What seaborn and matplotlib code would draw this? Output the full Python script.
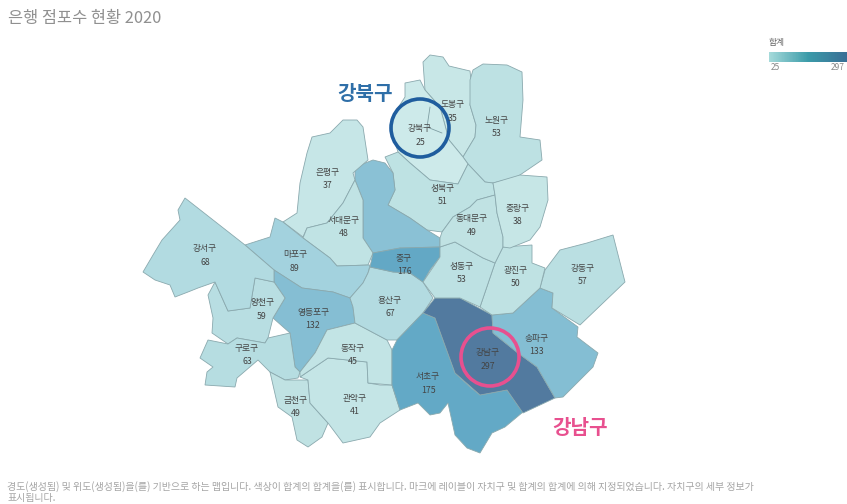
import numpy as np
import matplotlib
matplotlib.use('Agg')
import matplotlib.pyplot as plt
from matplotlib.colors import Normalize
from matplotlib.patches import Circle
import seaborn as sns

districts = ['도봉구', '노원구', '강북구', '성북구', '종로구', '은평구', '서대문구', '마포구', '영등포구',
             '양천구', '강서구', '구로구', '금천구', '관악구', '동작구', '용산구', '중구', '서초구',
             '강남구', '송파구', '강동구', '광진구', '성동구', '동대문구', '중랑구']
# 종로구 has no label in the picture, its value is guessed from its colour
values = [35, 53, 25, 51, 125, 37, 48, 89, 132, 59, 68, 63, 49, 41, 45, 67, 176, 175, 297, 133, 57, 50, 53, 49, 38]
labelled = [d for d in districts if d != '종로구']

# district outlines, map units are the pixels of the source map
outlines = {
    '도봉구': [(423, 62), (430, 55), (443, 57), (449, 66), (470, 71), (472, 90), (470, 105), (476, 125), (475, 137),
            (463, 157), (449, 140), (440, 107), (425, 90)],
    '노원구': [(470, 80), (473, 70), (483, 64), (507, 65), (522, 72), (523, 100), (520, 137), (540, 140), (542, 160),
            (517, 177), (493, 183), (485, 182), (468, 164), (463, 157), (475, 137), (476, 125), (470, 105)],
    '강북구': [(405, 83), (420, 80), (425, 90), (440, 107), (449, 140), (463, 157), (468, 164), (458, 184), (430, 180),
            (410, 163), (398, 152), (392, 133), (392, 117), (405, 97)],
    '성북구': [(385, 157), (398, 152), (410, 163), (430, 180), (458, 184), (468, 164), (485, 182), (493, 183),
            (495, 195), (477, 200), (470, 207), (453, 217), (442, 232), (427, 230), (410, 218), (388, 205),
            (395, 190), (393, 173)],
    '종로구': [(355, 167), (373, 160), (385, 163), (393, 173), (395, 190), (388, 205), (410, 218), (427, 230),
            (440, 238), (440, 247), (400, 248), (373, 253), (363, 238), (363, 200), (355, 180)],
    '은평구': [(312, 137), (330, 133), (343, 120), (357, 120), (363, 127), (368, 160), (353, 173), (355, 180),
            (343, 203), (327, 223), (307, 228), (303, 237), (283, 222), (297, 213), (300, 183), (307, 153)],
    '서대문구': [(303, 238), (307, 228), (327, 223), (343, 203), (355, 180), (363, 200), (363, 238), (373, 253),
             (368, 265), (337, 266), (330, 258)],
    '마포구': [(245, 245), (270, 237), (275, 218), (283, 222), (303, 238), (330, 258), (337, 266), (370, 265),
            (368, 273), (363, 283), (350, 298), (333, 292), (302, 288), (274, 270)],
    '영등포구': [(274, 270), (274, 282), (285, 298), (273, 318), (290, 333), (295, 367), (300, 372), (315, 353),
             (327, 330), (355, 323), (353, 307), (350, 298), (333, 292), (302, 288)],
    '양천구': [(215, 282), (208, 295), (213, 318), (212, 333), (228, 344), (237, 338), (265, 343), (268, 338),
            (273, 318), (285, 298), (274, 282), (255, 278), (250, 308), (228, 311)],
    '강서구': [(185, 198), (178, 210), (180, 220), (162, 240), (153, 255), (143, 272), (155, 280), (170, 285),
            (175, 297), (188, 292), (198, 288), (215, 282), (228, 311), (250, 308), (255, 278), (274, 282),
            (274, 270), (245, 245)],
    '구로구': [(200, 358), (208, 340), (228, 344), (237, 338), (265, 343), (268, 338), (290, 333), (295, 367),
            (300, 372), (298, 378), (285, 380), (270, 372), (258, 360), (237, 378), (235, 387), (205, 385),
            (207, 372), (213, 367)],
    '금천구': [(270, 372), (285, 380), (308, 380), (310, 403), (328, 423), (322, 437), (308, 447), (297, 440),
            (292, 417), (278, 407)],
    '관악구': [(300, 377), (328, 358), (367, 362), (368, 383), (380, 385), (392, 385), (400, 410), (380, 423),
            (370, 437), (343, 443), (328, 423), (310, 403), (308, 380)],
    '동작구': [(300, 372), (315, 353), (327, 330), (355, 323), (387, 340), (392, 350), (392, 385), (368, 383),
            (367, 362), (328, 358), (300, 377)],
    '용산구': [(370, 267), (393, 272), (410, 273), (423, 282), (433, 298), (423, 313), (397, 340), (387, 340),
            (355, 323), (353, 307), (350, 298), (363, 283), (368, 273)],
    '중구': [(373, 253), (400, 248), (440, 247), (440, 257), (430, 270), (423, 282), (410, 273), (393, 272), (370, 267)],
    '서초구': [(423, 313), (435, 318), (455, 373), (470, 387), (480, 395), (507, 390), (523, 412), (505, 427),
            (492, 433), (480, 453), (467, 448), (455, 435), (448, 403), (440, 413), (430, 415), (418, 403),
            (400, 410), (392, 385), (392, 350), (397, 340)],
    '강남구': [(423, 313), (435, 298), (460, 298), (492, 315), (493, 333), (518, 353), (537, 367), (555, 398),
            (523, 413), (507, 390), (480, 395), (455, 373), (435, 318)],
    '송파구': [(492, 315), (513, 313), (540, 288), (553, 293), (552, 308), (578, 327), (577, 337), (598, 353),
            (593, 367), (573, 387), (563, 397), (555, 398), (537, 367), (518, 353), (493, 333)],
    '강동구': [(540, 288), (545, 270), (560, 250), (587, 243), (613, 235), (625, 282), (580, 325), (552, 308), (553, 293)],
    '광진구': [(480, 307), (495, 263), (503, 247), (532, 245), (532, 263), (545, 268), (540, 288), (513, 313), (492, 315)],
    '성동구': [(423, 282), (440, 257), (440, 247), (455, 242), (483, 258), (495, 263), (480, 307), (460, 298), (435, 298)],
    '동대문구': [(440, 238), (442, 232), (453, 217), (470, 207), (477, 200), (495, 195), (497, 213), (503, 237),
             (503, 247), (495, 263), (483, 258), (455, 242), (440, 247)],
    '중랑구': [(493, 183), (520, 175), (547, 177), (548, 200), (540, 227), (530, 240), (510, 248), (503, 247),
            (503, 237), (497, 213), (495, 195)],
}
label_pos = {
    '도봉구': (453, 105), '노원구': (497, 120), '강북구': (420, 129), '성북구': (443, 188), '은평구': (328, 172),
    '서대문구': (344, 220), '마포구': (295, 255), '영등포구': (313, 312), '양천구': (262, 303), '강서구': (205, 249),
    '구로구': (247, 348), '금천구': (296, 400), '관악구': (355, 398), '동작구': (353, 348), '용산구': (390, 300),
    '중구': (404, 258), '서초구': (428, 377), '강남구': (488, 353), '송파구': (537, 338), '강동구': (583, 268),
    '광진구': (516, 270), '성동구': (462, 266), '동대문구': (472, 219), '중랑구': (518, 208),
}

title = '은행 점포수 현황 2020'
legend_title = '합계'
legend_ticks = ['25', '297']
footer = ['경도(생성됨) 및 위도(생성됨)을(를) 기반으로 하는 맵입니다. 색상이 합계의 합계을(를) 표시합니다. '
          '마크에 레이블이 자치구 및 합계의 합계에 의해 지정되었습니다. 자치구의 세부 정보가',
          '표시됩니다.']

sns.set_theme(style='white')
plt.rcParams['font.family'] = ['Noto Sans CJK KR', 'DejaVu Sans']

cmap = sns.blend_palette(['#cdeaea', '#bfe2e3', '#a3d2de', '#85bed3', '#63a9c6', '#527a9f'], as_cmap=True)
legend_cmap = sns.blend_palette(['#a5dada', '#3b9ba9', '#3a6f96'], as_cmap=True)
norm = Normalize(vmin=0, vmax=1)
stops = [25, 50, 89, 132, 175, 297]

fig = plt.figure(figsize=(8.47, 5.04), dpi=100)
ax = fig.add_axes([0, 0, 1, 1])
ax.set_xlim(0, 847)
ax.set_ylim(504, 0)
ax.axis('off')

for district, value in zip(districts, values):
    colour = cmap(norm(np.interp(value, stops, np.arange(6) / 5)))
    pts = np.array(outlines[district])
    ax.fill(pts[:, 0], pts[:, 1], facecolor=colour, edgecolor='#8aa9ae', linewidth=0.6)

# odd inner line kept from the source map
ax.plot([430, 427, 442], [107, 127, 133], color='#7f9ea3', linewidth=0.6)

for district, value in zip(districts, values):
    if district in labelled:
        x, y = label_pos[district]
        ax.text(x, y, district, ha='center', va='center', fontsize=6.3, color='#444444')
        ax.text(x, y + 13.5, str(value), ha='center', va='center', fontsize=6.3, color='#444444')

ax.add_patch(Circle((420, 128), 29, fill=False, edgecolor='#1f5d9e', linewidth=2.6))
ax.add_patch(Circle((490, 357), 29, fill=False, edgecolor='#e8508f', linewidth=2.6))
ax.text(365, 93, '강북구', ha='center', va='center', fontsize=14.5, fontweight='bold', color='#2f6fa8')
ax.text(580, 428, '강남구', ha='center', va='center', fontsize=14.5, fontweight='bold', color='#e8508f')

ax.text(8, 18, title, ha='left', va='center', fontsize=11.8, color='#909090')
for line, y in zip(footer, [487, 498]):
    ax.text(7, y, line, ha='left', va='center', fontsize=7.2, color='#a5a5a5')

ax.text(769, 43, legend_title, ha='left', va='center', fontsize=6.3, color='#666666')
ax.text(775, 67, legend_ticks[0], ha='center', va='center', fontsize=6, color='#888888')
ax.text(838, 67, legend_ticks[1], ha='center', va='center', fontsize=6, color='#888888')

leg = fig.add_axes([769 / 847, 1 - 62 / 504, 78 / 847, 10 / 504])
sns.heatmap(np.linspace(0, 1, 128)[None, :], cmap=legend_cmap, cbar=False, ax=leg,
            xticklabels=False, yticklabels=False)

fig.savefig('out.png', dpi=100)
